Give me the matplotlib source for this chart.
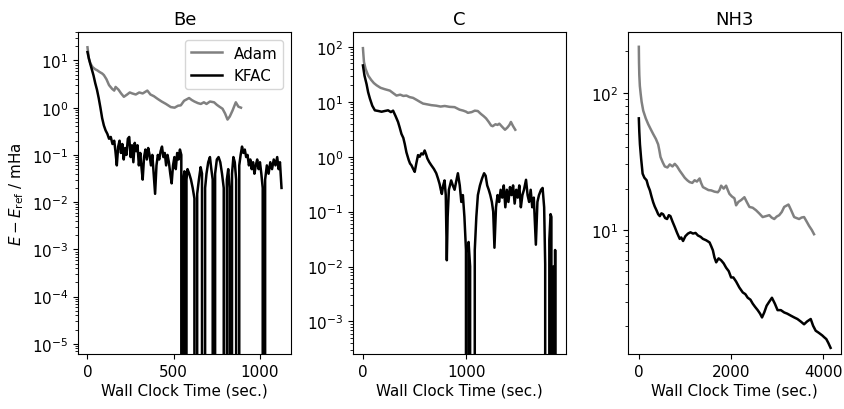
import matplotlib as mpl
import matplotlib.pyplot as plt
import matplotlib.ticker as ticker
import numpy as np


mpl.rcParams.update(mpl.rcParamsDefault)
plt.rcParams['font.family'] = 'DejaVu Sans'
plt.rcParams['font.size'] = 10.9

# Negative entries mean E fell below E_ref, so the log axis sends them off the bottom.

# ---- Be ----
BE_ADAM_T = [0, 8, 17, 30, 45, 56, 70, 85, 95, 110,
             125, 143, 155, 163, 180, 195, 211, 230, 245, 260,
             280, 300, 320, 347, 365, 385, 405, 430, 455, 483,
             505, 525, 541, 560, 575, 589, 605, 620, 640, 657,
             675, 690, 710, 734, 750, 765, 783, 798, 812, 825,
             841, 852, 860, 875, 890]
BE_ADAM_E = [19, 11, 8.6, 7.2, 6.5, 6.2, 5.7, 5.3, 4.9, 4.0,
             3.0, 2.5, 2.3, 2.75, 2.4, 2.0, 1.7, 1.9, 2.1, 2.0,
             1.9, 2.1, 2.0, 2.3, 1.9, 1.75, 1.55, 1.35, 1.2, 1.03,
             1.0, 1.1, 1.12, 1.4, 1.5, 1.6, 1.45, 1.35, 1.25, 1.2,
             1.3, 1.2, 1.35, 1.3, 1.15, 1.05, 0.95, 0.75, 0.56, 0.65,
             0.87, 1.1, 1.3, 1.05, 1.0]

BE_KFAC_T = [0, 8, 16, 25, 35, 45, 55, 65, 75, 85,
             95, 105, 115, 125, 135, 145, 155, 162, 170, 178,
             186, 194, 202, 210, 218, 226, 234, 242, 250, 258,
             266, 274, 282, 290, 298, 306, 314, 320, 328, 336,
             344, 352, 360, 368, 376, 384, 392, 400, 408, 416,
             424, 432, 440, 448, 456, 464, 472, 480, 488, 496,
             504, 512, 520, 528, 536, 544, 550, 556, 562, 568,
             574, 580, 590, 600, 610, 620, 628, 636, 646, 656,
             664, 674, 682, 690, 700, 710, 718, 726, 733, 740,
             750, 760, 770, 780, 790, 802, 808, 816, 824, 831,
             838, 846, 854, 862, 872, 880, 888, 896, 904, 912,
             920, 928, 936, 944, 952, 960, 968, 976, 984, 992,
             1000, 1008, 1016, 1023, 1030, 1040, 1050, 1060, 1070, 1080,
             1090, 1100, 1108, 1116, 1125]
BE_KFAC_E = [15, 11, 8.5, 6.5, 4.8, 3.3, 2.4, 1.6, 1.0, 0.6,
             0.42, 0.33, 0.28, 0.22, 0.24, 0.17, 0.2, 0.12, 0.06, 0.15,
             0.2, 0.11, 0.17, 0.08, 0.14, 0.1, 0.22, 0.24, 0.09, 0.16,
             0.07, 0.18, 0.12, 0.16, 0.06, 0.11, 0.05, 0.03, 0.09, 0.13,
             0.08, 0.14, 0.1, 0.06, 0.1, 0.04, 0.015, 0.06, 0.1, 0.08,
             0.12, 0.15, 0.09, 0.11, 0.06, 0.1, 0.07, 0.04, 0.025, 0.06,
             0.09, 0.05, 0.11, 0.08, 0.13, 0.1, -0.01, 0.03, 0.045, -0.01,
             0.03, 0.05, 0.04, 0.03, 0.02, 0.012, -0.01, 0.015, 0.03, 0.055,
             0.04, -0.01, 0.02, 0.04, 0.07, 0.09, 0.05, 0.03, -0.01, 0.04,
             0.08, 0.09, 0.07, 0.04, 0.02, -0.01, 0.03, 0.05, 0.02, -0.01,
             0.04, 0.09, 0.07, 0.03, -0.01, 0.06, 0.1, 0.15, 0.11, 0.13,
             0.09, 0.1, 0.06, 0.08, 0.05, 0.07, 0.04, 0.06, 0.08, 0.05,
             0.07, 0.04, 0.02, -0.01, 0.03, 0.06, 0.04, 0.07, 0.05, 0.08,
             0.06, 0.09, 0.05, 0.07, 0.02]

# ---- C ----
C_ADAM_T = [0, 5, 10, 25, 51, 80, 105, 132, 170, 210,
            260, 290, 324, 360, 390, 420, 450, 484, 520, 550,
            580, 620, 660, 708, 750, 790, 837, 885, 933, 970,
            997, 1013, 1050, 1080, 1109, 1140, 1165, 1189, 1215, 1238,
            1253, 1280, 1300, 1317, 1345, 1372, 1395, 1415, 1429, 1450,
            1471]
C_ADAM_E = [95, 70, 53, 40, 30, 25, 22, 20, 18, 17,
            16, 14.5, 13, 13.5, 12.8, 13, 12.2, 11.8, 10.8, 10,
            9.3, 9.0, 8.7, 8.5, 8.2, 8.4, 8.1, 8.0, 7.2, 6.9,
            6.6, 6.3, 6.5, 6.9, 6.8, 6.0, 5.5, 5.0, 4.3, 3.7,
            3.6, 3.9, 3.8, 4.0, 3.5, 3.1, 3.4, 3.8, 4.3, 3.6,
            3.1]

C_KFAC_T = [0, 15, 35, 50, 67, 90, 115, 150, 180, 210,
            243, 270, 291, 315, 339, 355, 372, 390, 404, 420,
            442, 455, 468, 485, 500, 515, 532, 548, 564, 580,
            596, 610, 622, 640, 660, 685, 708, 725, 740, 752,
            762, 775, 788, 800, 810, 818, 830, 852, 868, 885,
            900, 917, 935, 950, 965, 980, 995, 1005, 1020, 1035,
            1045, 1065, 1080, 1095, 1110, 1130, 1150, 1170, 1185, 1200,
            1215, 1230, 1245, 1258, 1270, 1285, 1300, 1315, 1330, 1345,
            1360, 1375, 1390, 1405, 1420, 1435, 1450, 1465, 1480, 1495,
            1510, 1525, 1540, 1555, 1575, 1590, 1605, 1620, 1635, 1650,
            1670, 1685, 1700, 1720, 1735, 1750, 1760, 1766, 1785, 1800,
            1812, 1820, 1828, 1840, 1848, 1856, 1862]
C_KFAC_E = [46, 30, 21, 15, 11.5, 8.5, 7, 6.8, 6.6, 6.8,
            7, 6.5, 6.9, 5.5, 4.3, 3.4, 2.6, 2.2, 1.7, 1.2,
            0.87, 0.75, 0.7, 0.6, 0.53, 0.75, 1.07, 1.0, 1.15, 1.1,
            1.3, 1.1, 0.93, 0.8, 0.7, 0.6, 0.5, 0.4, 0.32, 0.25,
            0.21, 0.3, 0.37, 0.2, 0.013, 0.08, 0.25, 0.37, 0.3, 0.25,
            0.35, 0.5, 0.3, 0.15, 0.2, 0.08, 0.02, -0.01, 0.028, 0.01,
            -0.01, -0.01, 0.02, 0.08, 0.2, 0.3, 0.4, 0.5, 0.45, 0.3,
            0.25, 0.2, 0.15, 0.1, 0.022, 0.12, 0.2, 0.15, 0.25, 0.18,
            0.3, 0.12, 0.25, 0.15, 0.28, 0.2, 0.3, 0.14, 0.25, 0.18,
            0.3, 0.12, 0.2, 0.25, 0.38, 0.2, 0.15, 0.25, 0.12, 0.18,
            0.025, 0.15, 0.2, 0.25, 0.27, 0.12, 0.011, -0.01, -0.01, 0.03,
            0.09, 0.08, -0.01, 0.01, -0.01, 0.02, -0.01]

# ---- NH3 ----
NH3_ADAM_T = [0, 4, 10, 22, 40, 60, 95, 150, 203, 260, 311,
              370, 419, 445, 470, 520, 563, 620, 671, 730, 779,
              830, 887, 940, 995, 1050, 1102, 1160, 1210, 1260, 1318,
              1350, 1390, 1450, 1510, 1570, 1640, 1713, 1750, 1785, 1840,
              1893, 1930, 1965, 2020, 2073, 2110, 2160, 2220, 2290, 2340,
              2398, 2470, 2542, 2610, 2686, 2760, 2830, 2880, 2937, 2990,
              3045, 3100, 3153, 3200, 3246, 3300, 3369, 3420, 3476, 3530,
              3584, 3640, 3692, 3750, 3800]
NH3_ADAM_E = [216, 165, 135, 112, 98, 86, 74, 65, 59, 54, 50,
              46, 42, 38, 34, 31, 29, 28.5, 30, 29, 30.3,
              29, 27, 25.5, 24, 23, 22.3, 22, 23, 22.5, 23.7,
              22, 20.5, 20, 19.5, 19.4, 19, 18.8, 19.5, 21, 20,
              21, 19.5, 18.3, 17.5, 17, 15.1, 16, 16.5, 17.3, 16,
              14.7, 14.5, 13.9, 13.2, 12.4, 12.6, 12.8, 12.3, 12.0, 12.5,
              12.8, 13.5, 14.7, 15, 15.3, 14, 12.4, 12.2, 12.0, 12.3,
              12.4, 11.5, 10.7, 10, 9.3]

NH3_KFAC_T = [0, 10, 24, 50, 82, 120, 168, 200, 240, 275,
              311, 345, 383, 420, 455, 490, 527, 570, 613, 650,
              685, 730, 779, 830, 887, 920, 959, 1010, 1066, 1120,
              1174, 1230, 1282, 1340, 1390, 1460, 1534, 1570, 1606, 1640,
              1678, 1730, 1785, 1840, 1893, 1950, 2001, 2050, 2110, 2180,
              2254, 2310, 2362, 2420, 2470, 2520, 2578, 2630, 2672, 2720,
              2772, 2830, 2887, 2950, 3009, 3080, 3153, 3220, 3297, 3370,
              3440, 3510, 3584, 3650, 3728, 3780, 3836, 3900, 3979, 4020,
              4066, 4110, 4159]
NH3_KFAC_E = [65, 52, 42, 33, 25.7, 24, 23, 21, 19.4, 17.5,
              15.9, 14.8, 13.9, 13, 12.6, 13.2, 13, 12.2, 12, 12.8,
              12.6, 11.5, 10.5, 9.5, 8.6, 8.8, 8.3, 9.0, 9.4, 9.6,
              9.4, 9.5, 9.1, 8.9, 8.6, 8.4, 8.1, 7.6, 7.1, 6.3,
              5.8, 6.2, 6.0, 5.7, 5.3, 5.0, 4.5, 4.5, 4.2, 3.8,
              3.5, 3.4, 3.2, 3.1, 2.9, 2.75, 2.6, 2.45, 2.3, 2.5,
              2.8, 3.0, 3.2, 2.9, 2.6, 2.6, 2.5, 2.45, 2.37, 2.3,
              2.24, 2.15, 2.05, 2.15, 2.24, 2.0, 1.84, 1.78, 1.7, 1.65,
              1.6, 1.5, 1.38]

BE_XTICKS = [0, 500, 1000]
C_XTICKS = [0, 1000]
NH3_XTICKS = [0, 2000, 4000]

PANELS = [
    {'title': 'Be', 'adam': (BE_ADAM_T, BE_ADAM_E), 'kfac': (BE_KFAC_T, BE_KFAC_E),
     'xticks': BE_XTICKS, 'xlim': (-55, 1180), 'ylim': (6.1e-6, 40.0), 'left': 78},
    {'title': 'C', 'adam': (C_ADAM_T, C_ADAM_E), 'kfac': (C_KFAC_T, C_KFAC_E),
     'xticks': C_XTICKS, 'xlim': (-96, 1961), 'ylim': (2.55e-4, 187.0), 'left': 353},
    {'title': 'NH3', 'adam': (NH3_ADAM_T, NH3_ADAM_E), 'kfac': (NH3_KFAC_T, NH3_KFAC_E),
     'xticks': NH3_XTICKS, 'xlim': (-235, 4385), 'ylim': (1.245, 277.0), 'left': 628},
]

FIG_W, FIG_H = 844, 410
AX_W = 213
AX_TOP, AX_BOTTOM = 33, 355


def plot():
    fig = plt.figure(figsize=(FIG_W / 100, FIG_H / 100), dpi=100)

    for idx, panel in enumerate(PANELS):
        rect = [panel['left'] / FIG_W, 1 - AX_BOTTOM / FIG_H,
                AX_W / FIG_W, (AX_BOTTOM - AX_TOP) / FIG_H]
        ax = fig.add_axes(rect)
        ax.set_yscale('log')

        t, e = panel['adam']
        ax.plot(np.array(t), np.array(e), color='gray', linewidth=1.8, label='Adam')
        t, e = panel['kfac']
        ax.plot(np.array(t), np.array(e), color='black', linewidth=1.8, label='KFAC')

        ax.set_xlim(*panel['xlim'])
        ax.set_ylim(*panel['ylim'])
        ax.set_xticks(panel['xticks'])
        ax.yaxis.set_minor_locator(ticker.LogLocator(base=10, subs=np.arange(2, 10), numticks=100))
        ax.yaxis.set_minor_formatter(ticker.NullFormatter())
        ax.set_title(panel['title'], fontsize=13)
        ax.set_xlabel('Wall Clock Time (sec.)', labelpad=3)

        if idx == 0:
            ax.set_ylabel(r'$E - E_{\mathrm{ref}}$ / mHa')
            ax.legend(loc='upper right')

    fig.savefig('out.png', dpi=100)
    plt.close(fig)


def main():
    plot()


if __name__ == '__main__':
    main()
